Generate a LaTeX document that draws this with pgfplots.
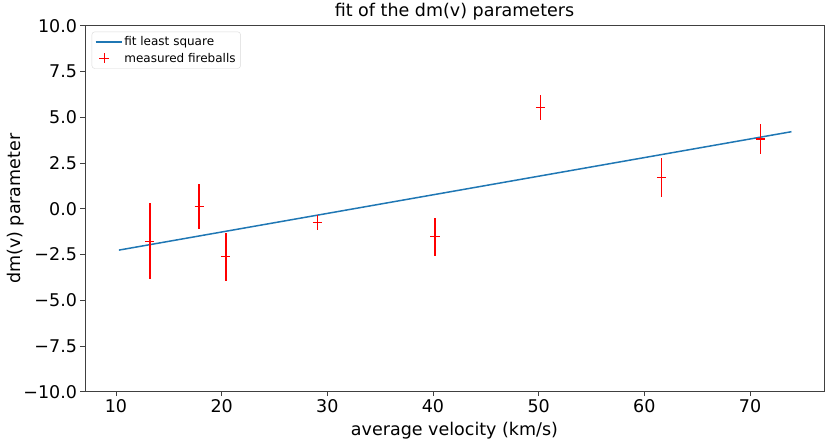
\documentclass[border=0pt]{standalone}
\usepackage{pgfplots}
\pgfplotsset{compat=1.18}
\usepackage{pgfplotstable}
\usepackage{fontspec}
\setmainfont{DejaVu Sans}
\definecolor{mplblue}{HTML}{1F77B4}
\definecolor{mplred}{HTML}{FF0000}
\pgfplotstableread{
x y e
13.19 -1.78 2.08
17.88 0.11 1.24
20.38 -2.63 1.32
29.08 -0.74 0.40
40.18 -1.53 1.05
50.18 5.54 0.67
61.63 1.71 1.09
71.00 3.81 0.82
}\meas
\pgfplotstableread{
x y
10.28 -2.26
73.92 4.21
}\fit
\begin{document}
\begin{tikzpicture}
\begin{axis}[
  scale only axis, width=739bp, height=366bp,
  xmin=7.07, xmax=77.0, ymin=-10, ymax=10,
  xtick={10,20,30,40,50,60,70},
  xticklabels={10,20,30,40,50,60,70},
  ytick={-10,-7.5,-5,-2.5,0,2.5,5,7.5,10},
  yticklabels={−10.0,−7.5,−5.0,−2.5,0.0,2.5,5.0,7.5,10.0},
  tick align=outside, tick pos=left,
  major tick length=4.5bp,
  every tick/.style={black!75, line width=0.8bp},
  axis line style={black!75, line width=0.8bp},
  tick label style={font=\fontsize{17.5bp}{21bp}\selectfont},
  label style={font=\fontsize{17.5bp}{21bp}\selectfont},
  ylabel style={yshift=-8bp},
  xlabel style={yshift=-2bp},
  title style={font=\fontsize{17.5bp}{21bp}\selectfont, yshift=-4bp},
  title={fit of the dm(v) parameters},
  xlabel={average velocity (km/s)},
  ylabel={dm(v) parameter},
  legend style={at={(0.009,0.984)}, anchor=north west, draw=black!15, rounded corners=3bp,
    font=\fontsize{12bp}{14bp}\selectfont, inner xsep=3bp, inner ysep=3bp, row sep=1.5bp},
  legend cell align=left,
]
\addplot[mplblue, line width=1.5bp,
  legend image code/.code={\draw[mplblue, line width=1.5bp] (0bp,0bp) -- (26bp,0bp);}]
  table[x=x,y=y]{\fit};
\addlegendentry{fit least square}
\addplot[only marks, mark=+, mark size=4.7bp, draw=mplred, color=mplred, mark options={draw=mplred, line width=1.2bp},
  error bars/.cd, y dir=both, y explicit, error mark=none,
  error bar style={draw=mplred, color=mplred, line width=1.8bp}]
  table[x=x,y=y,y error=e]{\meas};
\addlegendentry{measured fireballs}
\end{axis}
\path ([shift={(-85bp,-48bp)}]current axis.south west) rectangle ([shift={(7bp,24bp)}]current axis.north east);
\end{tikzpicture}
\end{document}
